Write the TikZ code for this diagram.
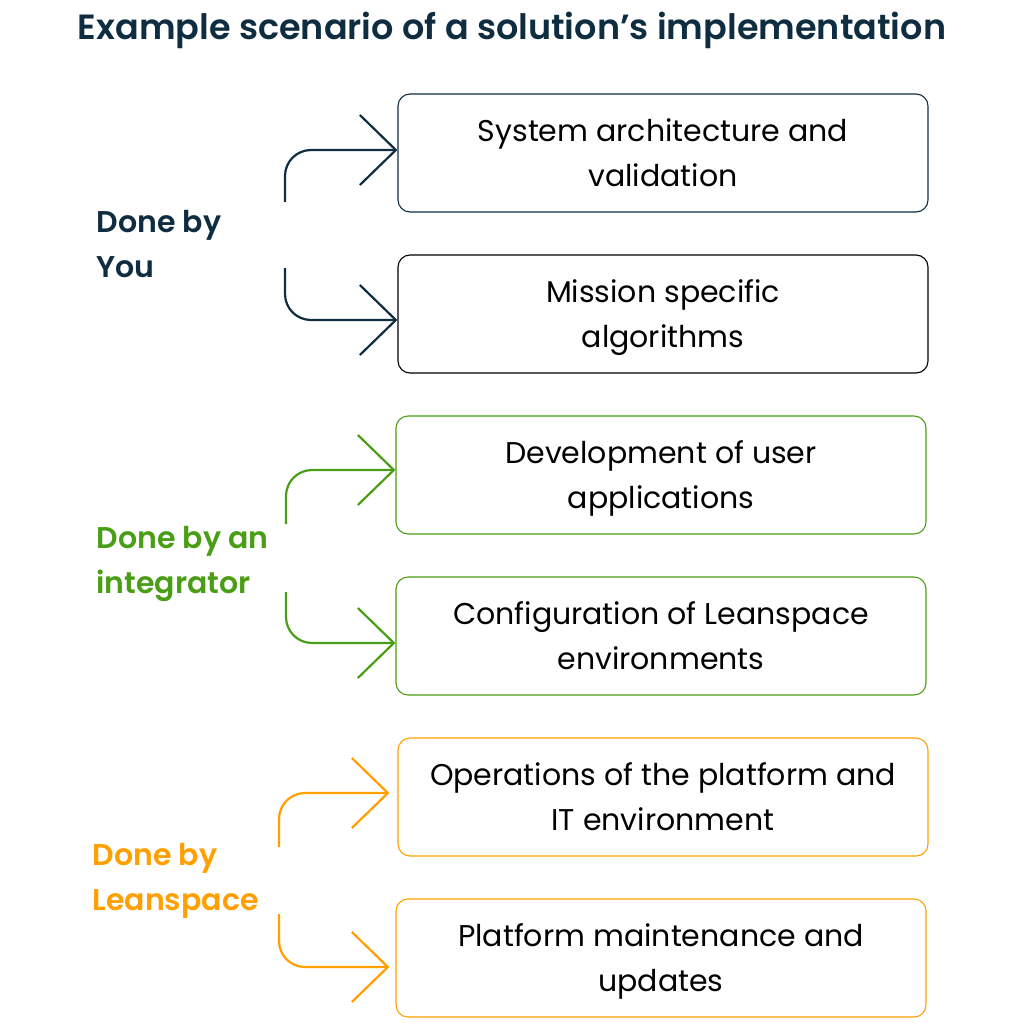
\documentclass[tikz,border=0pt]{standalone}
\usepackage{fontspec}
\setmainfont{Poppins}[BoldFont={Poppins SemiBold}]
\usetikzlibrary{arrows.meta}
\definecolor{leannavy}{HTML}{0F2D40}
\definecolor{leangreen}{HTML}{4A9E16}
\definecolor{leanorange}{HTML}{FF9F00}

\begin{document}
\begin{tikzpicture}[x=1pt,y=-1pt,align=center]
	\tikzstyle{task}=[draw,rectangle,rounded corners=12pt,minimum width=530pt,minimum height=118pt,line width=1.1pt,text=black,text depth=0pt,font=\fontsize{30}{45}\selectfont]
	\tikzstyle{who}=[anchor=west,align=left,text depth=0pt,font=\fontsize{30}{45}\selectfont\bfseries]
	\tikzstyle{flow}=[line width=2.2pt,rounded corners=26pt,-{Straight Barb[length=36pt,width=70pt]}]

	\useasboundingbox (0,0) rectangle (1024,1024);

	\node[text=leannavy,font=\fontsize{35}{40}\selectfont\bfseries](title) at (512,30){Example scenario of a solution’s implementation};

	\node[task,draw=leannavy](system_arch) at (663,153){System architecture and\\validation};
	\node[task,draw=black](mission_algo) at (663,314){Mission specific\\algorithms};
	\node[task,draw=leangreen](user_apps) at (661,475){Development of user\\applications};
	\node[task,draw=leangreen](config_env) at (661,636){Configuration of Leanspace\\environments};
	\node[task,draw=leanorange](platform_ops) at (663,797){Operations of the platform and\\IT environment};
	\node[task,draw=leanorange](maintenance) at (661,958){Platform maintenance and\\updates};

	\node[who,text=leannavy](by_you) at (93,244){Done by\\You};
	\node[who,text=leangreen](by_integrator) at (93,560){Done by an\\integrator};
	\node[who,text=leanorange](by_leanspace) at (89,877){Done by\\Leanspace};

	\coordinate (you_top) at (285,202);
	\coordinate (you_bottom) at (285,268);
	\coordinate (integrator_top) at (286,524);
	\coordinate (integrator_bottom) at (286,592);
	\coordinate (leanspace_top) at (279,847);
	\coordinate (leanspace_bottom) at (279,914);

	\draw[flow,leannavy](you_top) |- ([yshift=3pt]system_arch.west);
	\draw[flow,leannavy](you_bottom) |- ([yshift=-6pt]mission_algo.west);

	\draw[flow,leangreen](integrator_top) |- ([yshift=5pt]user_apps.west);
	\draw[flow,leangreen](integrator_bottom) |- ([yshift=-7pt]config_env.west);

	\draw[flow,leanorange](leanspace_top) |- ([xshift=-8pt,yshift=4pt]platform_ops.west);
	\draw[flow,leanorange](leanspace_bottom) |- ([xshift=-6pt,yshift=-9pt]maintenance.west);
\end{tikzpicture}
\end{document}
